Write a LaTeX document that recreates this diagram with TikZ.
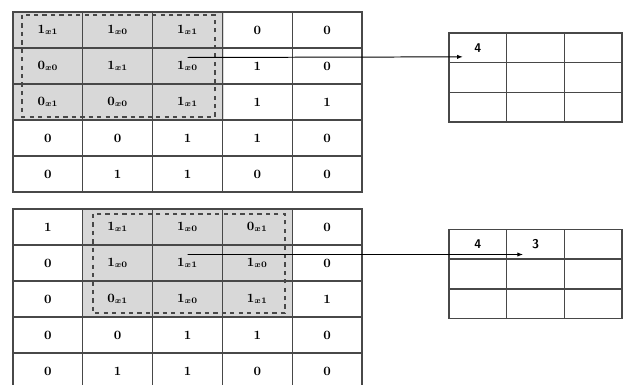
\documentclass[tikz,border=0pt]{standalone}
\usetikzlibrary{arrows.meta,calc}
\definecolor{gridgray}{RGB}{72,72,72}
\definecolor{wingray}{RGB}{216,216,216}

\begin{document}
\begin{tikzpicture}[x=0.025cm,y=-0.025cm,cell/.style={draw=gridgray,line width=.9pt,minimum width=1.745cm,minimum height=.9cm,inner sep=0pt,font=\small\bfseries\boldmath},outcell/.style={draw=gridgray,line width=.9pt,minimum width=1.44cm,minimum height=.74cm,inner sep=0pt},lbl/.style={font=\small\sffamily\bfseries},win/.style={draw=gridgray,dashed,line width=1.1pt},conn/.style={-{Latex[length=4pt,width=3pt]},line width=.7pt,draw=black}]

\useasboundingbox (0,0) rectangle (623,385);
\clip (0,0) rectangle (623,385);

\fill[wingray] (13,12) rectangle (224,120);
\fill[wingray] (83,209) rectangle (293,317);

% input, first position of the kernel
\foreach \v [count=\i from 0] in {$1_{x1}$,$1_{x0}$,$1_{x1}$,0,0,$0_{x0}$,$1_{x1}$,$1_{x0}$,1,0,$0_{x1}$,$0_{x0}$,$1_{x1}$,1,1,0,0,1,1,0,0,1,1,0,0}{
  \pgfmathtruncatemacro\r{\i/5+1}
  \pgfmathtruncatemacro\c{mod(\i,5)+1}
  \node[cell] (t-\r-\c) at ({13+69.8*(\c-.5)},{12+36*(\r-.5)}) {\v};
}
% input, kernel moved one step
\foreach \v [count=\i from 0] in {1,$1_{x1}$,$1_{x0}$,$0_{x1}$,0,0,$1_{x0}$,$1_{x1}$,$1_{x0}$,0,0,$0_{x1}$,$1_{x0}$,$1_{x1}$,1,0,0,1,1,0,0,1,1,0,0}{
  \pgfmathtruncatemacro\r{\i/5+1}
  \pgfmathtruncatemacro\c{mod(\i,5)+1}
  \node[cell] (b-\r-\c) at ({13+69.8*(\c-.5)},{209+36*(\r-.5)}) {\v};
}

\draw[win] (22,15) rectangle (215,117);
\draw[win] (93,214) rectangle (285,313);

% feature maps
\foreach \r in {1,2,3}{
  \foreach \c in {1,2,3}{
    \node[outcell] (ot-\r-\c) at ({449+57.7*(\c-.5)},{33+29.7*(\r-.5)}) {};
    \node[outcell] (ob-\r-\c) at ({449+57.7*(\c-.5)},{229+30*(\r-.5)}) {};
  }
}
\node[lbl] at (ot-1-1) {4};
\node[lbl] at (ob-1-1) {4};
\node[lbl] at (ob-1-2) {3};

\draw[conn] ($(t-2-3.center)+(0,-8.5)$) -- ($(ot-1-1.center)+(-15,9)$);
\draw[conn] ($(b-2-3.center)+(0,-8.5)$) -- ($(ob-1-2.center)+(-12.5,10.5)$);
\end{tikzpicture}
\end{document}
